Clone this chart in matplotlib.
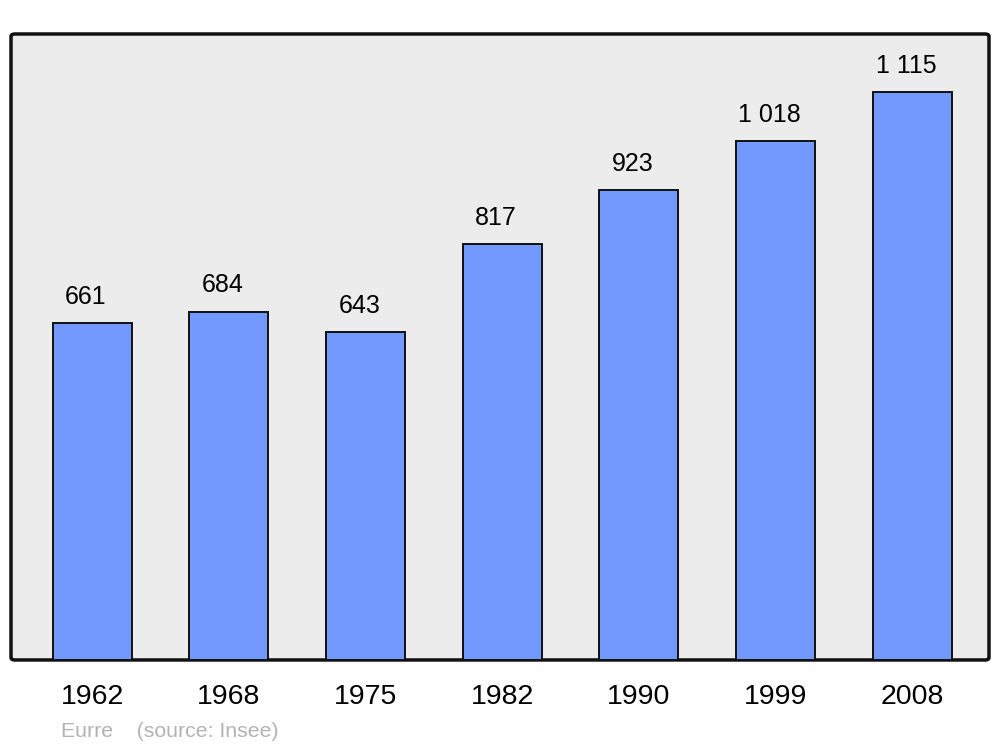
import matplotlib
matplotlib.use("Agg")
import matplotlib.pyplot as plt
from matplotlib.patches import FancyBboxPatch

years = ["1962", "1968", "1975", "1982", "1990", "1999", "2008"]
population = [661, 684, 643, 817, 923, 1018, 1115]
value_labels = ["661", "684", "643", "817", "923", "1 018", "1 115"]
commune = "Eurre"
source = "(source: Insee)"

plt.rcParams['font.family'] = ['Liberation Sans', 'DejaVu Sans']

fig = plt.figure(figsize=(10, 7.47), dpi=100)
ax = fig.add_axes([0.011, 0.1165, 0.978, 0.838])
ax.set_facecolor('none')

# rounded frame / background
frame = FancyBboxPatch((0, 0), 1, 1, boxstyle="round,pad=0,rounding_size=0.004",
                       transform=ax.transAxes, facecolor='#ececec', edgecolor='#111111',
                       linewidth=2.5, clip_on=False, zorder=0)
ax.add_patch(frame)

x = list(range(len(years)))
bars = ax.bar(x, population, width=0.578, color='#7399ff', edgecolor='#111111',
              linewidth=1.4, zorder=2)

for xi, v, lab in zip(x, population, value_labels):
    ax.annotate(lab, (xi, v), xytext=(-4.5, 13.8), textcoords='offset points',
                ha='center', va='baseline', fontsize=18, color='black')

ax.set_xlim(-0.593, 6.56)
ax.set_ylim(0, 1229)
ax.set_xticks(x)
ax.set_xticklabels(years, fontsize=20.5)
ax.tick_params(axis='x', length=0, pad=17.5)
ax.set_yticks([])
for s in ax.spines.values():
    s.set_visible(False)

fig.text(0.061, 0.0134, commune + "    " + source, fontsize=15.3, color='#b3b3b3',
         ha='left', va='baseline')

fig.savefig("out.png", dpi=100, facecolor='white')
